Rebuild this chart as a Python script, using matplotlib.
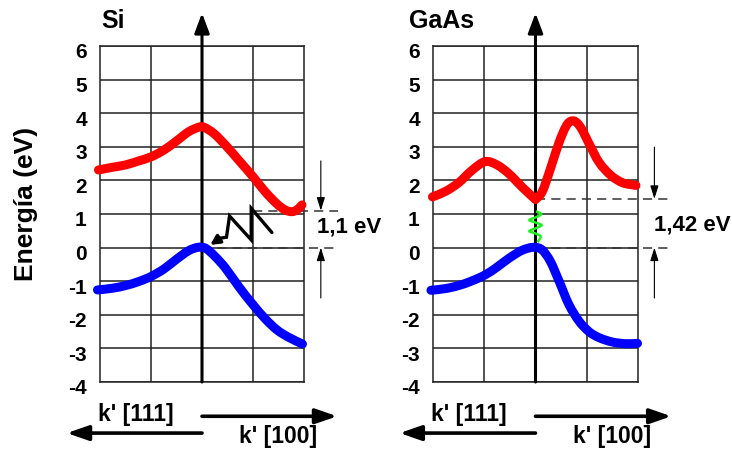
import matplotlib
matplotlib.use("Agg")
import matplotlib.pyplot as plt
from matplotlib.path import Path
from matplotlib.patches import PathPatch
from matplotlib.transforms import ScaledTranslation

plt.rcParams['font.family'] = ['Liberation Sans', 'DejaVu Sans']
plt.rcParams['font.weight'] = 'bold'

# ---------------- data ----------------
energy_ticks = [-4, -3, -2, -1, 0, 1, 2, 3, 4, 5, 6]

si_cond_k = [-2.03, -1.76, -1.5, -1.24, -1.0, -0.75, -0.52, -0.26, -0.05, 0.03, 0.23, 0.46, 0.72, 1.0, 1.24, 1.47, 1.63, 1.76, 1.86, 1.96]
si_cond_e = [2.31, 2.39, 2.46, 2.58, 2.70, 2.90, 3.15, 3.45, 3.59, 3.59, 3.40, 3.05, 2.60, 2.11, 1.66, 1.30, 1.12, 1.07, 1.12, 1.27]

si_val_k = [-2.05, -1.76, -1.5, -1.24, -1.0, -0.75, -0.52, -0.26, -0.07, 0.07, 0.26, 0.46, 0.72, 1.0, 1.24, 1.47, 1.70, 1.97]
si_val_e = [-1.26, -1.21, -1.13, -1.01, -0.86, -0.64, -0.37, -0.09, 0.01, -0.02, -0.27, -0.61, -1.16, -1.70, -2.12, -2.45, -2.67, -2.87]

gaas_cond_k = [-2.01, -1.76, -1.5, -1.24, -0.98, -0.75, -0.52, -0.26, 0.0, 0.13, 0.29, 0.46, 0.62, 0.75, 0.88, 1.05, 1.24, 1.47, 1.70, 1.96]
gaas_cond_e = [1.51, 1.67, 1.93, 2.30, 2.56, 2.46, 2.20, 1.80, 1.43, 1.66, 2.34, 3.13, 3.67, 3.77, 3.58, 3.08, 2.54, 2.15, 1.93, 1.85]

gaas_val_k = [-2.04, -1.76, -1.5, -1.24, -0.98, -0.75, -0.52, -0.26, -0.03, 0.13, 0.29, 0.46, 0.65, 0.85, 1.05, 1.24, 1.50, 1.76, 1.99]
gaas_val_e = [-1.27, -1.22, -1.13, -0.99, -0.81, -0.58, -0.32, -0.08, 0.01, -0.07, -0.41, -1.0, -1.69, -2.19, -2.51, -2.68, -2.81, -2.86, -2.85]

# indirect (Si) phonon-assisted path and direct (GaAs) photon path
si_zig_k = [1.37, 0.965, 0.965, 0.54, 0.48, 0.36, 0.16]
si_zig_e = [0.45, 1.17, 0.23, 0.94, 0.31, 0.28, 0.08]

gaas_wave_k = [0.01, 0.11, 0.02, -0.12, 0.0, 0.12, 0.01, -0.12, 0.0, 0.10, 0.04]
gaas_wave_e = [1.08, 1.0, 0.91, 0.82, 0.745, 0.67, 0.58, 0.49, 0.42, 0.34, 0.16]

si_gap = 1.1
gaas_gap = 1.45
si_gap_label = "1,1 eV"
gaas_gap_label = "1,42 eV"


def smooth_path(t, v, corners=(), swap=False):
    """Cubic Hermite Bezier path through the given points (parameter t monotonic)."""
    n = len(t)
    s_in, s_out = [0.0] * n, [0.0] * n
    for i in range(n):
        if i == 0:
            m = (v[1] - v[0]) / (t[1] - t[0]); s_in[i] = s_out[i] = m
        elif i == n - 1:
            m = (v[i] - v[i - 1]) / (t[i] - t[i - 1]); s_in[i] = s_out[i] = m
        elif i in corners:
            s_in[i] = (v[i] - v[i - 1]) / (t[i] - t[i - 1])
            s_out[i] = (v[i + 1] - v[i]) / (t[i + 1] - t[i])
        else:
            m = (v[i + 1] - v[i - 1]) / (t[i + 1] - t[i - 1]); s_in[i] = s_out[i] = m
    verts = [(t[0], v[0])]
    codes = [Path.MOVETO]
    for i in range(n - 1):
        h = t[i + 1] - t[i]
        verts += [(t[i] + h / 3, v[i] + s_out[i] * h / 3),
                  (t[i + 1] - h / 3, v[i + 1] - s_in[i + 1] * h / 3),
                  (t[i + 1], v[i + 1])]
        codes += [Path.CURVE4] * 3
    if swap:
        verts = [(b, a) for a, b in verts]
    return Path(verts, codes)


# ---------------- figure ----------------
fig = plt.figure(figsize=(7.32, 4.49), dpi=100)
W, H = 732, 449
shift = ScaledTranslation(0, -0.05, fig.dpi_scale_trans)

def make_ax(left_px, right_px):
    ax = fig.add_axes([left_px / W, 1 - 382 / H, (right_px - left_px) / W, (382 - 46) / H])
    ax.set_xlim(-2, 2)
    ax.set_ylim(-4, 6)
    ax.set_xticks([-1, 0, 1])
    ax.set_yticks(energy_ticks)
    ax.set_xticklabels([])
    ax.set_yticklabels([str(t) for t in energy_ticks], fontsize=15, fontweight='bold')
    ax.tick_params(length=0, pad=9.5)
    for lab in ax.get_yticklabels():
        lab.set_transform(lab.get_transform() + shift)
    ax.grid(True, color='#222222', linewidth=1.1)
    for s in ax.spines.values():
        s.set_color('#222222')
        s.set_linewidth(1.1)
    ax.set_axisbelow(True)
    return ax

axL = make_ax(100, 304)
axR = make_ax(433, 638)

def band(ax, k, e, color, corners=()):
    p = smooth_path(k, e, corners)
    ax.add_patch(PathPatch(p, facecolor='none', edgecolor=color, lw=6.5, capstyle='round',
                           joinstyle='round', zorder=5, clip_on=False))

def common(ax, title, title_x, gap, dash_start, gap_label, lab_x, lab_y, arr_x, top_from):
    ax.annotate('', xy=(0, 6.98), xytext=(0, -4), xycoords='data',
                arrowprops=dict(arrowstyle='-|>,head_length=1.2,head_width=0.45', color='black',
                                lw=2.2, shrinkA=0, shrinkB=0), annotation_clip=False)
    x_end = 2.66
    ax.plot([dash_start, x_end], [gap, gap], color='#333333', lw=1.1, dashes=(6, 4), clip_on=False, zorder=4)
    ax.plot([0, x_end], [0, 0], color='#333333', lw=1.1, dashes=(6, 4), clip_on=False, zorder=4)
    ax.annotate('', xy=(arr_x, gap), xytext=(arr_x, top_from),
                arrowprops=dict(arrowstyle='-|>,head_length=0.8,head_width=0.25', color='black', lw=0.8,
                                shrinkA=0, shrinkB=0), annotation_clip=False)
    ax.annotate('', xy=(arr_x, 0), xytext=(arr_x, -1.5),
                arrowprops=dict(arrowstyle='-|>,head_length=0.8,head_width=0.25', color='black', lw=0.8,
                                shrinkA=0, shrinkB=0), annotation_clip=False)
    ax.text(lab_x, lab_y, gap_label, fontsize=16, fontweight='bold', ha='left', va='center', clip_on=False)
    ax.text(title_x, 6.74, title, fontsize=18, fontweight='bold', ha='left', va='center', clip_on=False)
    ax.annotate('', xy=(2.65, -5.02), xytext=(0, -5.02),
                arrowprops=dict(arrowstyle='-|>,head_length=1.3,head_width=0.45', color='black', lw=2.6,
                                shrinkA=0, shrinkB=0), annotation_clip=False)
    ax.annotate('', xy=(-2.65, -5.52), xytext=(0, -5.52),
                arrowprops=dict(arrowstyle='-|>,head_length=1.3,head_width=0.45', color='black', lw=2.6,
                                shrinkA=0, shrinkB=0), annotation_clip=False)
    ax.text(-1.3, -4.98, "k' [111]", fontsize=16.5, fontweight='bold', ha='center', va='center', clip_on=False)
    ax.text(1.5, -5.62, "k' [100]", fontsize=16.5, fontweight='bold', ha='center', va='center', clip_on=False)

band(axL, si_cond_k, si_cond_e, '#ff0000')
band(axL, si_val_k, si_val_e, '#0000ff')
band(axR, gaas_cond_k, gaas_cond_e, '#ff0000', corners=(8,))
band(axR, gaas_val_k, gaas_val_e, '#0000ff')

common(axL, 'Si', -1.98, si_gap, 1.0, si_gap_label, 2.25, 0.6, 2.33, 2.58)
common(axR, 'GaAs', -2.46, gaas_gap, 0.0, gaas_gap_label, 2.32, 0.67, 2.32, 2.99)

# Si phonon-assisted zigzag with arrow
axL.plot(si_zig_k[:-1], si_zig_e[:-1], color='black', lw=2.4, solid_joinstyle='miter', solid_capstyle='round', zorder=6)
axL.annotate('', xy=(si_zig_k[-1], si_zig_e[-1]), xytext=(si_zig_k[-2], si_zig_e[-2]),
             arrowprops=dict(arrowstyle='-|>,head_length=0.55,head_width=0.28', color='black', lw=2.4,
                             shrinkA=0, shrinkB=0), zorder=6)

# GaAs direct photon wave (parameterised along energy)
wave_e_rev = gaas_wave_e[::-1]
wave_k_rev = gaas_wave_k[::-1]
axR.add_patch(PathPatch(smooth_path(wave_e_rev, wave_k_rev, swap=True), facecolor='none',
                        edgecolor='#22ee22', lw=1.8, zorder=6))

fig.text(26 / W, 1 - 204 / H, 'Energía (eV)', rotation=90, fontsize=19, fontweight='bold', ha='center', va='center')

fig.savefig('out.png', dpi=100)
